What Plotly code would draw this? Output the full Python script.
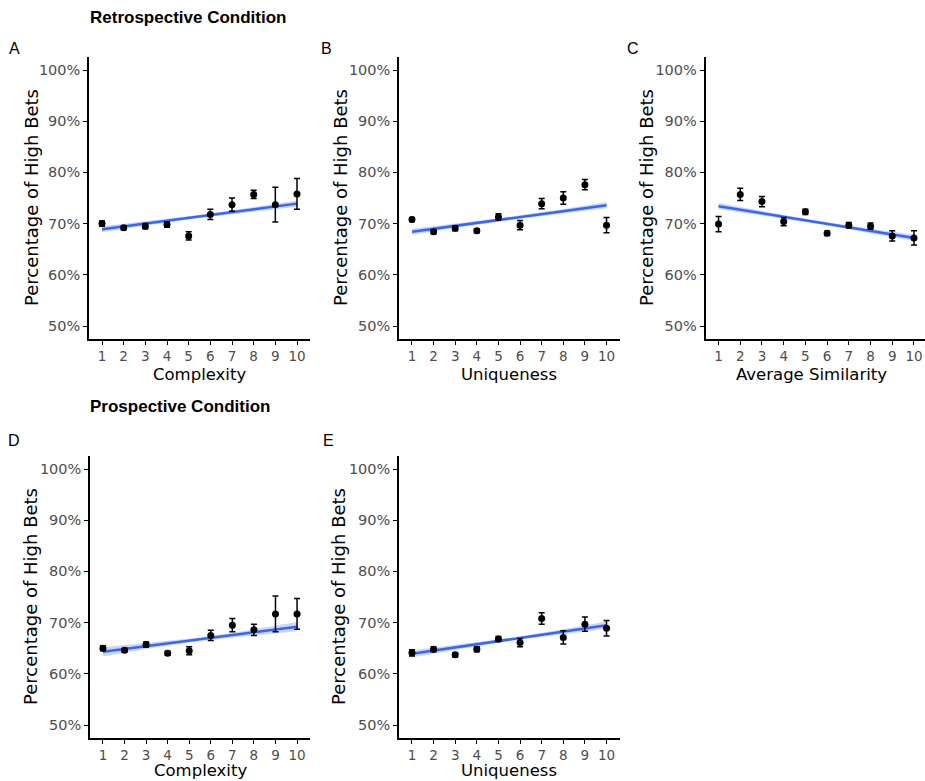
import numpy as np
import plotly.graph_objects as go

# ---------------- data ----------------
levels = list(range(1, 11))
x_tick_labels = [str(i) for i in levels]
y_tick_vals = [50, 60, 70, 80, 90, 100]
y_tick_labels = ["50%", "60%", "70%", "80%", "90%", "100%"]

a_mean = [70.0, 69.2, 69.5, 69.8, 67.6, 71.8, 73.7, 75.7, 73.7, 75.8]
a_err = [0.5, 0.4, 0.5, 0.5, 0.8, 1.0, 1.3, 0.8, 3.4, 3.0]
b_mean = [70.8, 68.4, 69.1, 68.6, 71.3, 69.7, 73.9, 75.0, 77.6, 69.7]
b_err = [0.4, 0.4, 0.5, 0.4, 0.6, 0.9, 1.0, 1.2, 1.0, 1.5]
c_mean = [69.9, 75.7, 74.3, 70.4, 72.3, 68.1, 69.7, 69.5, 67.6, 67.2]
c_err = [1.5, 1.2, 1.0, 0.8, 0.5, 0.4, 0.5, 0.6, 1.0, 1.4]
d_mean = [65.0, 64.6, 65.7, 64.0, 64.5, 67.5, 69.5, 68.6, 71.7, 71.7]
d_err = [0.5, 0.4, 0.5, 0.4, 0.8, 1.0, 1.3, 1.1, 3.5, 3.0]
e_mean = [64.1, 64.8, 63.7, 64.8, 66.8, 66.1, 70.8, 67.1, 69.7, 68.9]
e_err = [0.6, 0.5, 0.4, 0.5, 0.5, 0.8, 1.1, 1.3, 1.4, 1.5]

panel_letters = ["A", "B", "C", "D", "E"]
x_titles = ["Complexity", "Uniqueness", "Average Similarity", "Complexity", "Uniqueness"]
y_title = "Percentage of High Bets"
fit_start = [68.9, 68.4, 73.4, 64.3, 63.9]   # fitted value at level 1
fit_end = [73.9, 73.6, 67.2, 69.2, 69.5]     # fitted value at level 10
band_mid = [0.3, 0.3, 0.3, 0.35, 0.3]        # CI half-width at centre
band_end = [0.6, 0.6, 0.6, 0.9, 0.7]         # CI half-width at ends
section_titles = ["Retrospective Condition", "Prospective Condition"]

means = [a_mean, b_mean, c_mean, d_mean, e_mean]
errs = [a_err, b_err, c_err, d_err, e_err]

# ---------------- layout geometry (page pixels) ----------------
W, H = 925, 781
FONT = "DejaVu Sans"
TFONT = "Liberation Sans"
x_px = [(89, 310), (399, 619.5), (705.5, 927), (90, 310), (399, 619.5)]
y_px = [(57.2, 338.8)] * 3 + [(456.2, 737.8)] * 2
ytitle_x = [31, 340, 646, 30, 338]
xtitle_y = [374, 374, 374, 770.5, 770.5]
letter_pos = [(14, 48), (326, 48), (633, 48), (14, 440), (328, 440)]
section_pos = [(88, 18), (88, 406)]


def px(x):
    return x / W


def py(y):
    return 1 - y / H


fig = go.Figure()
annotations = []

for i in range(5):
    ax = "" if i == 0 else str(i + 1)
    xa, ya = "x" + ax, "y" + ax
    xs = np.array(levels, dtype=float)
    grid = np.linspace(1, 10, 60)
    fit = fit_start[i] + (fit_end[i] - fit_start[i]) * (grid - 1) / 9
    t = (grid - 5.5) / 4.5
    hw = np.sqrt(band_mid[i] ** 2 + (band_end[i] ** 2 - band_mid[i] ** 2) * t ** 2)
    fig.add_trace(go.Scatter(
        x=np.concatenate([grid, grid[::-1]]),
        y=np.concatenate([fit + hw, (fit - hw)[::-1]]),
        fill="toself", fillcolor="rgba(110,140,225,0.35)", line=dict(width=0),
        mode="lines", hoverinfo="skip", showlegend=False, xaxis=xa, yaxis=ya))
    fig.add_trace(go.Scatter(
        x=grid, y=fit, mode="lines", line=dict(color="#3366FF", width=2.5),
        showlegend=False, xaxis=xa, yaxis=ya))
    fig.add_trace(go.Scatter(
        x=xs, y=means[i], mode="markers",
        marker=dict(color="black", size=7),
        error_y=dict(type="data", array=errs[i], color="black", thickness=1.5, width=3),
        showlegend=False, xaxis=xa, yaxis=ya))

    x0, x1 = x_px[i]
    y0, y1 = y_px[i]
    d1 = min(px(x1), 1.0)
    r1 = 0.4 + 10.2 * (d1 * W - x0) / (x1 - x0)
    fig.layout["xaxis" + ax] = dict(
        domain=[px(x0), d1], range=[0.4, r1], anchor=ya,
        tickmode="array", tickvals=levels, ticktext=x_tick_labels,
        showline=True, linecolor="black", linewidth=1.5, mirror=False,
        ticks="outside", ticklen=4, tickcolor="black", tickwidth=1.2,
        showgrid=False, zeroline=False,
        tickfont=dict(family=FONT, size=13.5, color="#4D4D4D"))
    fig.layout["yaxis" + ax] = dict(
        domain=[py(y1), py(y0)], range=[47.5, 102.5], anchor=xa,
        tickmode="array", tickvals=y_tick_vals, ticktext=y_tick_labels,
        showline=True, linecolor="black", linewidth=1.5,
        ticks="outside", ticklen=4, tickcolor="black", tickwidth=1.2,
        showgrid=False, zeroline=False,
        tickfont=dict(family=FONT, size=14.5, color="#4D4D4D"))

    annotations.append(dict(
        text=x_titles[i], xref="paper", yref="paper",
        x=px((x0 + min(x1, W - 8)) / 2), y=py(xtitle_y[i]), showarrow=False,
        xanchor="center", yanchor="middle",
        font=dict(family=FONT, size=16.5, color="black")))
    annotations.append(dict(
        text=y_title, xref="paper", yref="paper", textangle=-90,
        x=px(ytitle_x[i]), y=py((y0 + y1) / 2), showarrow=False,
        xanchor="center", yanchor="middle",
        font=dict(family=FONT, size=18, color="black")))
    lx, ly = letter_pos[i]
    annotations.append(dict(
        text=panel_letters[i], xref="paper", yref="paper",
        x=px(lx), y=py(ly), showarrow=False,
        xanchor="center", yanchor="middle",
        font=dict(family=TFONT, size=16, color="black")))

for j, s in enumerate(section_titles):
    sx, sy = section_pos[j]
    annotations.append(dict(
        text="<b>" + s + "</b>", xref="paper", yref="paper",
        x=px(sx), y=py(sy), showarrow=False,
        xanchor="left", yanchor="middle",
        font=dict(family=TFONT, size=17, color="black")))

fig.update_layout(
    width=W, height=H, margin=dict(l=0, r=0, t=0, b=0),
    plot_bgcolor="white", paper_bgcolor="white",
    annotations=annotations, showlegend=False)

fig.write_html(
    "out.html",
    config={"displayModeBar": False},
    post_script="document.body.style.margin='0';document.body.style.overflow='hidden';")
